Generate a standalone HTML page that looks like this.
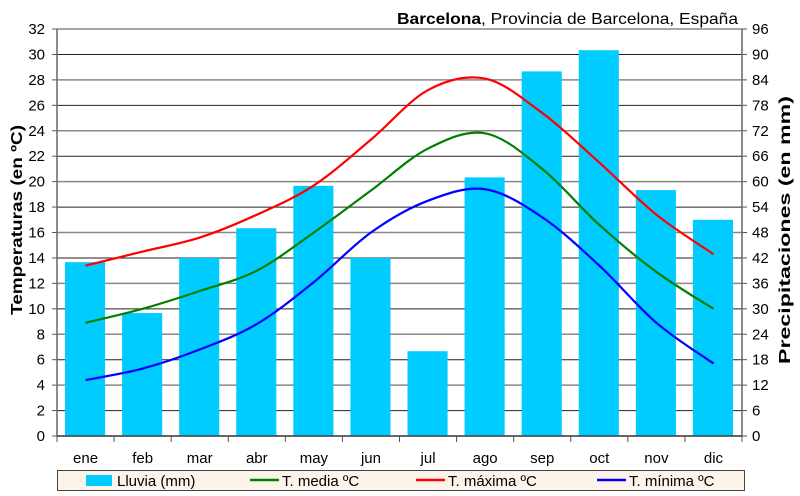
<!DOCTYPE html>
<html><head><meta charset="utf-8"><style>body{margin:0;background:#fff}svg{display:block;font-family:"Liberation Sans",Arial,sans-serif}</style></head>
<body>
<svg id="s" width="800" height="496" xmlns="http://www.w3.org/2000/svg">
<text x="738" y="24" font-size="16" text-anchor="end" textLength="341" lengthAdjust="spacingAndGlyphs"><tspan font-weight="bold">Barcelona</tspan>, Provincia de Barcelona, España</text>
<g id="g"></g>
<text transform="translate(22,220) rotate(-90)" font-size="16" font-weight="bold" text-anchor="middle" textLength="190" lengthAdjust="spacingAndGlyphs">Temperaturas (en ºC)</text>
<text transform="translate(790,230) rotate(-90)" font-size="16" font-weight="bold" text-anchor="middle" textLength="268" lengthAdjust="spacingAndGlyphs">Precipitaciones (en mm)</text>
<rect x="57.5" y="470.5" width="687" height="20" fill="#fcf3ea" stroke="#444"/>
<rect x="86" y="475" width="26" height="11" fill="#00ccff"/>
<text x="117" y="486" font-size="15">Lluvia (mm)</text>
<line x1="250" y1="480" x2="279" y2="480" stroke="#008000" stroke-width="2.5"/>
<text x="282" y="486" font-size="15">T. media ºC</text>
<line x1="416" y1="480" x2="445" y2="480" stroke="#ff0000" stroke-width="2.5"/>
<text x="448" y="486" font-size="15">T. máxima ºC</text>
<line x1="597" y1="480" x2="626" y2="480" stroke="#0000ff" stroke-width="2.5"/>
<text x="629" y="486" font-size="15">T. mínima ºC</text>
</svg>
<script>
var g=document.getElementById('g'),h='';
var L=57,R=742,B=436,T=29,W=(R-L)/12,k=(B-T)/32,kp=(B-T)/96;
for(var i=0;i<=16;i++){var v=i*2,y=B-v*k;
 h+='<line x1="'+L+'" x2="'+R+'" y1="'+y+'" y2="'+y+'" stroke="'+(i%2?'#222':'#888')+'" stroke-width="'+(i%2?1:1.5)+'"/>';
 h+='<line x1="'+(L-5)+'" x2="'+L+'" y1="'+y+'" y2="'+y+'" stroke="#555"/>';
 h+='<line x1="'+R+'" x2="'+(R+5)+'" y1="'+y+'" y2="'+y+'" stroke="#555"/>';
 h+='<text x="'+(L-12)+'" y="'+(y+5)+'" font-size="15" text-anchor="end">'+v+'</text>';
 h+='<text x="'+(R+10)+'" y="'+(y+5)+'" font-size="15">'+(i*6)+'</text>';}
var p=[41,29,42,49,59,42,20,61,86,91,58,51],m=['ene','feb','mar','abr','may','jun','jul','ago','sep','oct','nov','dic'];
for(i=0;i<12;i++){var x=L+W*i+8;h+='<rect x="'+x+'" y="'+(B-p[i]*kp)+'" width="'+(W-17)+'" height="'+(p[i]*kp)+'" fill="#00ccff"/>';
 h+='<text x="'+(L+W*(i+.5))+'" y="'+(B+27)+'" font-size="15" text-anchor="middle">'+m[i]+'</text>';}
for(i=0;i<=12;i++){var x=L+W*i;h+='<line x1="'+x+'" x2="'+x+'" y1="'+B+'" y2="'+(B+6)+'" stroke="#555"/>';}
h+='<line x1="'+L+'" x2="'+L+'" y1="'+T+'" y2="'+B+'" stroke="#666" stroke-width="1.5"/>';
h+='<line x1="'+R+'" x2="'+R+'" y1="'+T+'" y2="'+B+'" stroke="#666" stroke-width="1.5"/>';
h+='<line x1="'+L+'" x2="'+R+'" y1="'+B+'" y2="'+B+'" stroke="#444" stroke-width="1.5"/>';
function path(d,c){var P=d.map(function(v,i){return[L+W*(i+.5),B-v*k]});var s='M'+P[0][0]+','+P[0][1];
 for(var i=0;i<P.length-1;i++){var p0=P[i-1]||P[i],p1=P[i],p2=P[i+1],p3=P[i+2]||P[i+1];
 s+=' C'+(p1[0]+(p2[0]-p0[0])/6)+','+(p1[1]+(p2[1]-p0[1])/6)+' '+(p2[0]-(p3[0]-p1[0])/6)+','+(p2[1]-(p3[1]-p1[1])/6)+' '+p2[0]+','+p2[1];}
 return '<path d="'+s+'" fill="none" stroke="'+c+'" stroke-width="2.2"/>';}
h+=path([13.4,14.5,15.6,17.4,19.7,23.3,27.2,28.1,25.4,21.5,17.4,14.3],'#ff0000');
h+=path([8.9,10,11.4,13,16,19.3,22.6,23.8,21,16.6,12.9,10],'#008000');
h+=path([4.4,5.3,6.8,8.8,12.1,16,18.5,19.4,17.2,13.4,8.9,5.7],'#0000ff');
g.innerHTML=h;
</script>
</body></html>
